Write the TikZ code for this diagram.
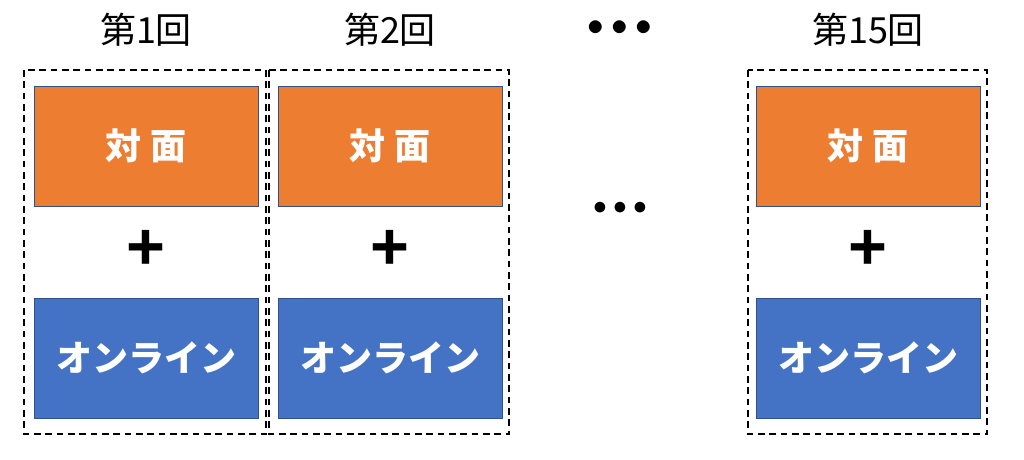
\documentclass[tikz,border=0pt]{standalone}
\usepackage{fontspec}
\newfontfamily\cjk{Noto Sans CJK JP}
\newfontfamily\lib{Liberation Sans}
\definecolor{org}{HTML}{ED7D31}
\definecolor{blu}{HTML}{4472C4}
\definecolor{bord}{HTML}{2F528F}
\begin{document}
\begin{tikzpicture}[x=0.75pt,y=-0.75pt,
  obox/.style={draw=bord,fill=org,minimum width=168pt,minimum height=90pt,inner sep=0pt,font=\cjk\fontsize{27}{30}\selectfont\bfseries,text=white},
  bbox/.style={draw=bord,fill=blu,minimum width=168pt,minimum height=90pt,inner sep=0pt,font=\cjk\fontsize{27}{30}\selectfont\bfseries,text=white},
  grp/.style={draw,dash pattern=on 5pt off 3.5pt,line width=1.5pt},
  ttl/.style={font=\cjk\fontsize{27}{30}\selectfont},
  plus/.style={font=\lib\bfseries\fontsize{50}{50}\selectfont}]
\useasboundingbox (0,0) rectangle (1024,460);
\foreach \n/\xa/\xb/\cx/\t in {a/24/266/146/第1回, b/269/509/390/第2回, c/748/987/868/第15回}{
  \draw[grp] (\xa,70) rectangle (\xb,434);
  \node[ttl] (t\n) at (\cx,30) {\t};
  \node[obox] (o\n) at (\cx,146) {対 面};
  \node[plus] (p\n) at (\cx,250) {+};
  \node[bbox] (b\n) at (\cx,358) {オンライン};
}
\node[font=\fontsize{30}{30}\selectfont] (d1) at (620,28) {$\bullet\bullet\bullet$};
\node[font=\fontsize{20}{20}\selectfont] (d2) at (620,208) {$\bullet\bullet\bullet$};
\end{tikzpicture}
\end{document}
